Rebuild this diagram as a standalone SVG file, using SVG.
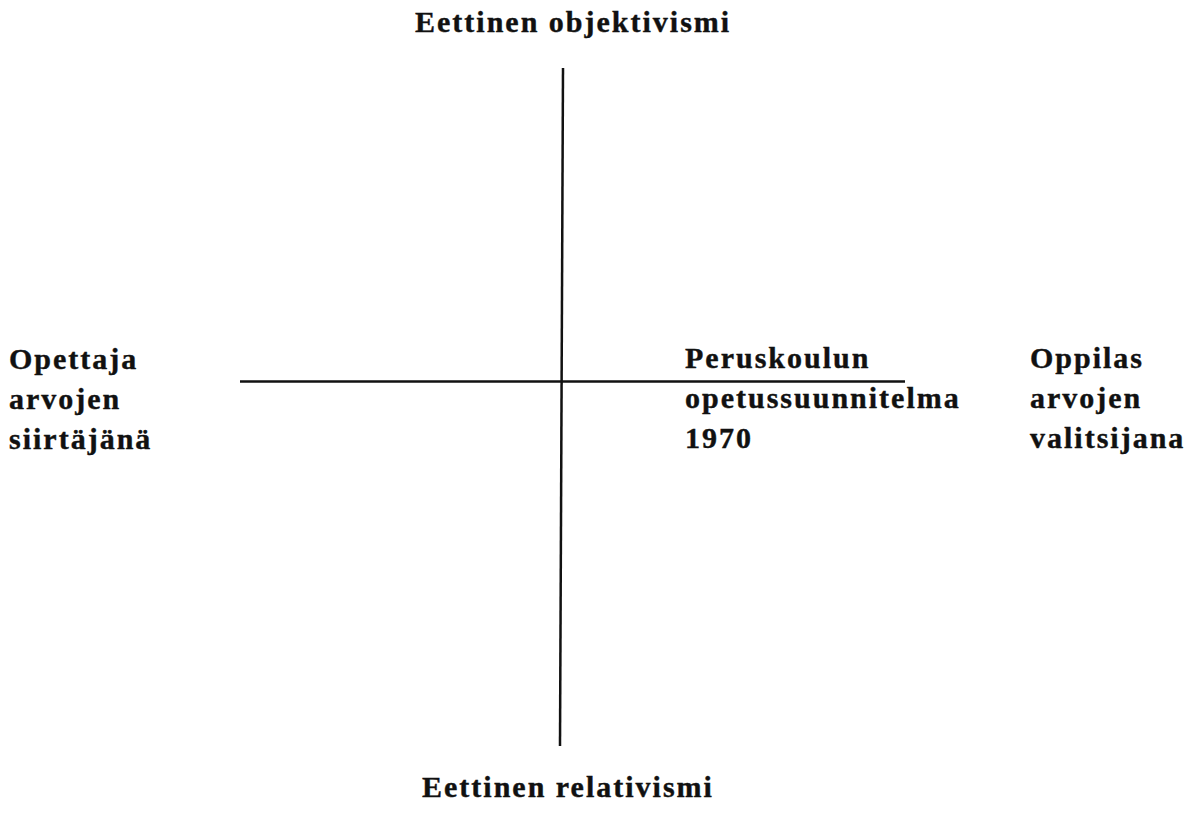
<svg xmlns="http://www.w3.org/2000/svg" width="1199" height="820" viewBox="0 0 1199 820">
<style>
text{font-family:"Liberation Serif","Times New Roman",serif;font-weight:bold;font-size:30px;letter-spacing:2px;fill:#111;stroke:#111;stroke-width:0.4}
.ax{stroke:#111;stroke-width:2.5;fill:none}
</style>
<rect width="1199" height="820" fill="#fff"/>
<g id="connectors">
<line class="ax" x1="563" y1="68" x2="560" y2="746"/>
<line class="ax" x1="240" y1="381.5" x2="905" y2="381.5"/>
</g>
<g id="top"><text x="415" y="32">Eettinen objektivismi</text></g>
<g id="bottom"><text x="422" y="797">Eettinen relativismi</text></g>
<g id="left"><text x="9" y="369">Opettaja</text><text x="9" y="409">arvojen</text><text x="9" y="449">siirtäjänä</text></g>
<g id="middle"><text x="685" y="368">Peruskoulun</text><text x="685" y="408">opetussuunnitelma</text><text x="685" y="448">1970</text></g>
<g id="right"><text x="1030" y="368">Oppilas</text><text x="1030" y="408">arvojen</text><text x="1030" y="448">valitsijana</text></g>
</svg>
